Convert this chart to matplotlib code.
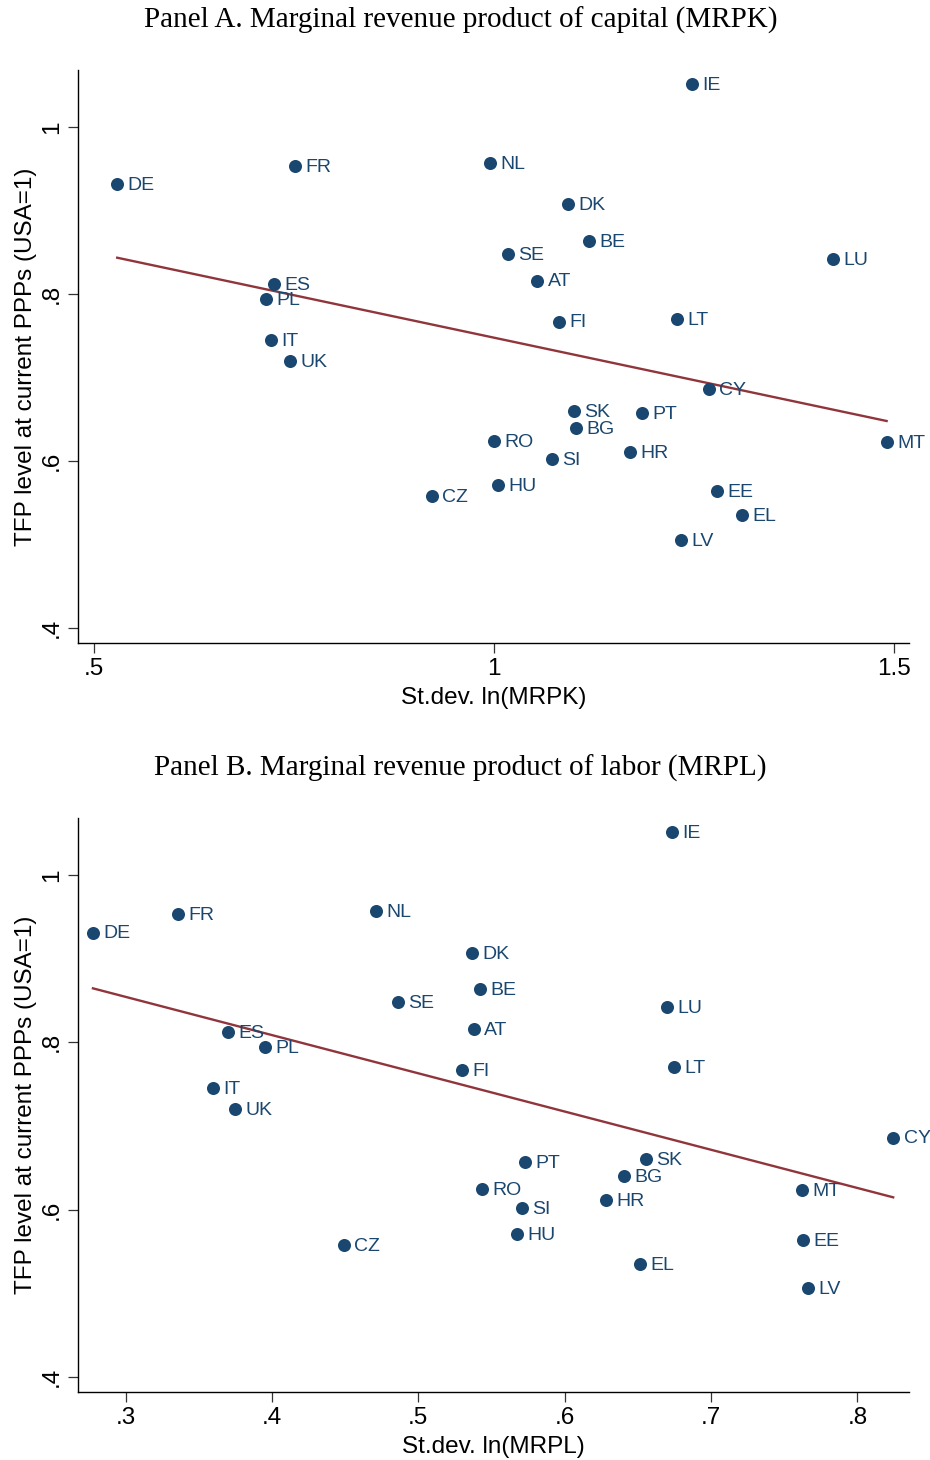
import numpy as np
import matplotlib
matplotlib.use("Agg")
import matplotlib.pyplot as plt

countries = ["DE", "FR", "NL", "IE", "DK", "BE", "SE", "AT", "LU", "ES",
             "PL", "FI", "LT", "IT", "UK", "CY", "SK", "PT", "BG", "MT",
             "RO", "HR", "SI", "HU", "EE", "CZ", "EL", "LV"]

tfp = [0.931, 0.953, 0.957, 1.051, 0.907, 0.863, 0.848, 0.816, 0.842, 0.812,
       0.794, 0.767, 0.770, 0.745, 0.720, 0.686, 0.660, 0.657, 0.640, 0.623,
       0.624, 0.611, 0.602, 0.571, 0.564, 0.558, 0.535, 0.506]

sd_mrpk = [0.529, 0.751, 0.995, 1.2475, 1.0925, 1.119, 1.0175, 1.054, 1.424, 0.725,
           0.715, 1.081, 1.229, 0.721, 0.745, 1.269, 1.100, 1.185, 1.1025, 1.491,
           1.000, 1.170, 1.0725, 1.005, 1.279, 0.9225, 1.310, 1.234]

sd_mrpl = [0.2776, 0.3357, 0.4711, 0.6734, 0.5367, 0.5422, 0.486, 0.538, 0.670, 0.370,
           0.395, 0.530, 0.6748, 0.3597, 0.3747, 0.8245, 0.6556, 0.573, 0.6406, 0.7623,
           0.5436, 0.6283, 0.5709, 0.5675, 0.763, 0.449, 0.6515, 0.7663]

panels = [
    {"title": "Panel A. Marginal revenue product of capital (MRPK)",
     "x": sd_mrpk, "xlabel": "St.dev. ln(MRPK)",
     "xticks": [0.5, 1.0, 1.5], "xticklabels": [".5", "1", "1.5"],
     "xlim": (0.48, 1.519)},
    {"title": "Panel B. Marginal revenue product of labor (MRPL)",
     "x": sd_mrpl, "xlabel": "St.dev. ln(MRPL)",
     "xticks": [0.3, 0.4, 0.5, 0.6, 0.7, 0.8],
     "xticklabels": [".3", ".4", ".5", ".6", ".7", ".8"],
     "xlim": (0.2674, 0.8353)},
]

dot_color = "#1a476f"
line_color = "#90353b"
sans = "Liberation Sans"

fig = plt.figure(figsize=(9.3, 14.6), dpi=100)
axes_pos = [[0.0839, 0.5596, 0.8935, 0.3924], [0.0839, 0.0468, 0.8935, 0.3929]]
title_y = [0.9862, 0.4740]

for p, pos, ty in zip(panels, axes_pos, title_y):
    ax = fig.add_axes(pos)
    x = np.array(p["x"])
    y = np.array(tfp)
    ax.scatter(x, y, s=88, color=dot_color, zorder=3, linewidths=0)
    for c, xi, yi in zip(countries, x, y):
        ax.annotate(c, (xi, yi), xytext=(7.5, -1), textcoords="offset points",
                    ha="left", va="center", fontsize=14, color=dot_color,
                    family=sans)
    b, a = np.polyfit(x, y, 1)
    xs = np.array([x.min(), x.max()])
    ax.plot(xs, a + b * xs, color=line_color, linewidth=1.7, zorder=2)

    ax.set_xlim(*p["xlim"])
    ax.set_ylim(0.3824, 1.0678)
    ax.set_xticks(p["xticks"])
    ax.set_xticklabels(p["xticklabels"])
    ax.set_yticks([0.4, 0.6, 0.8, 1.0])
    ax.set_yticklabels([".4", ".6", ".8", "1"], rotation=90, va="center")
    for side in ["top", "right"]:
        ax.spines[side].set_visible(False)
    for side in ["left", "bottom"]:
        ax.spines[side].set_linewidth(1.0)
    ax.tick_params(direction="out", length=7, width=0.9, color="#333333",
                   labelsize=17.5, pad=4)
    for lbl in ax.get_xticklabels() + ax.get_yticklabels():
        lbl.set_family(sans)
    ax.set_xlabel(p["xlabel"], fontsize=17.5, family=sans, labelpad=5)
    ax.set_ylabel("TFP level at current PPPs (USA=1)", fontsize=17.5,
                  family=sans, labelpad=3)
    fig.text(0.495, ty, p["title"], ha="center", va="center", fontsize=21,
             family="Liberation Serif")

fig.savefig("out.png", dpi=100)
